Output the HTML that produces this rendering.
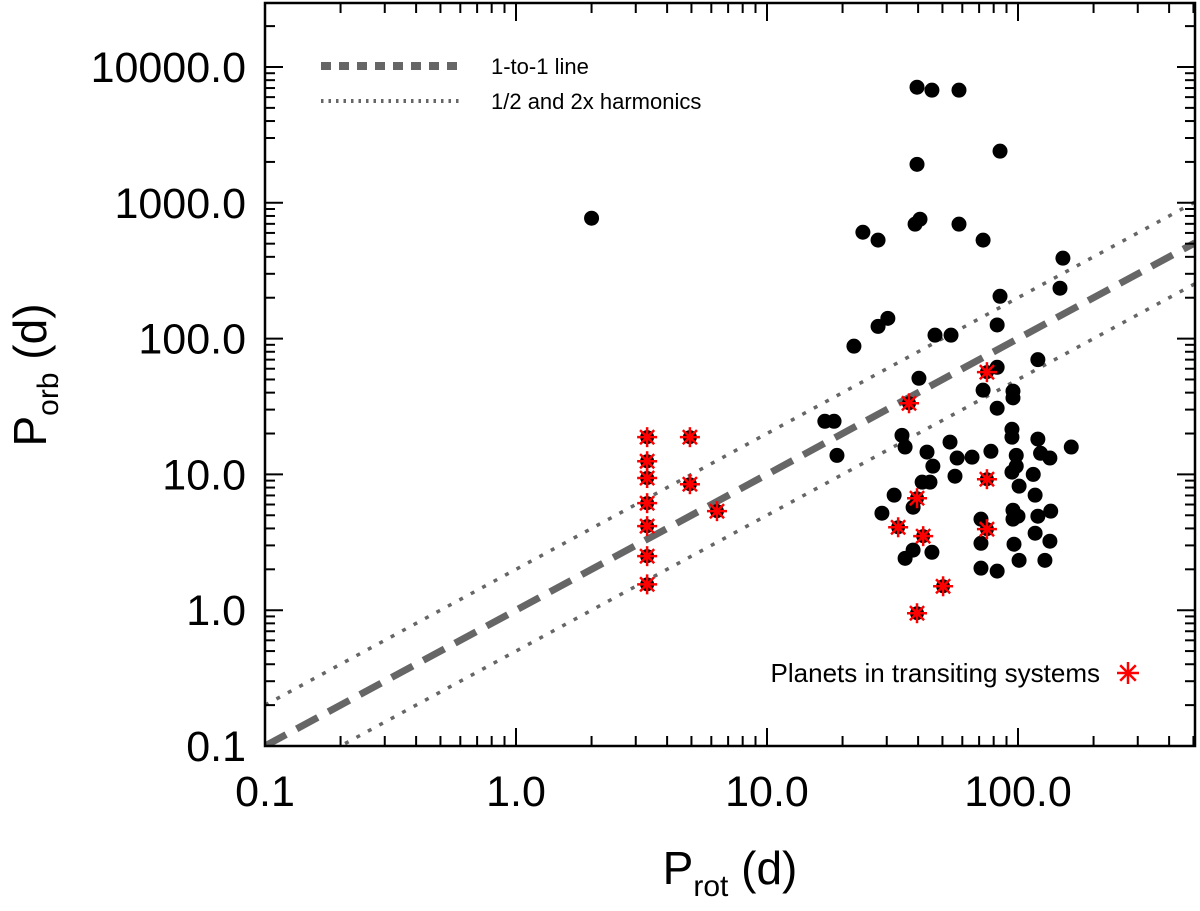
<!DOCTYPE html>
<html><head><meta charset="utf-8"><style>body{margin:0;background:#fff}svg{display:block;font-family:"Liberation Sans",sans-serif}</style></head>
<body>
<svg id="chart" width="1200" height="911" xmlns="http://www.w3.org/2000/svg"></svg>
<script>
const xTickLabels=["0.1","1.0","10.0","100.0"];
const yTickLabels=["0.1","1.0","10.0","100.0","1000.0","10000.0"];
const protBlack=[2.0,24.1,27.7,30.3,27.7,22.2,39.6,45.4,58.2,84.8,39.6,40.7,38.9,58.2,72.6,151,147,84.8,82.6,46.7,54.1,120,82.6,40.3,72.6,95.5,95.5,82.6,17.0,18.5,19.0,34.5,35.5,43.4,53.6,57.2,65.6,78,45.8,56.1,41.5,44.6,32.1,28.7,38.2,38.2,35.5,45.4,71.2,71.2,71.2,82.6,94.6,94.6,120,123,134,163,98.4,98.4,94.6,115,101,117,95.5,100,95.5,120,135,117,134,96.4,101,128];
const porbBlack=[770,607,531,141,123,88,7100,6750,6750,2400,1920,757,696,696,531,391,235,205,126,106,106,70,61.5,51,41.7,41,36.6,30.7,24.6,24.6,13.8,19.4,15.9,14.6,17.3,13.2,13.4,14.8,11.5,9.7,8.77,8.77,7.03,5.18,5.73,2.77,2.41,2.67,4.68,3.11,2.04,1.94,21.5,18.8,18.2,14.3,13.2,15.9,13.8,11.5,10.4,10.0,8.19,7.03,5.45,4.92,4.68,4.92,5.36,3.69,3.22,3.06,2.33,2.33];
const protStar=[3.33,3.33,3.33,3.33,3.33,3.33,3.33,4.93,4.93,6.32,36.8,75.2,39.6,33.3,41.9,50.3,75.2,75.2,39.6];
const porbStar=[18.8,12.5,9.4,6.14,4.16,2.5,1.55,18.8,8.47,5.36,33.4,56.6,6.68,4.08,3.51,1.5,9.22,3.95,0.95];
const L=265,R=1195,T=3,B=746;
const xmin=-1,xdec=251, ymin=-1,ydec=135.8;
const X=v=>L+(Math.log10(v)-xmin)*xdec;
const Y=v=>B-(Math.log10(v)-ymin)*ydec;
const xmax=Math.pow(10,xmin+(R-L)/xdec);
const svg=document.getElementById('chart');const NS="http://www.w3.org/2000/svg";
function mk(t,a,p){const e=document.createElementNS(NS,t);for(const k in a)e.setAttribute(k,a[k]);(p||svg).appendChild(e);return e;}
const clip=mk('clipPath',{id:'pc'});mk('rect',{x:L,y:T,width:R-L,height:B-T},clip);
const lines=[[1,"#666",7,'one-to-one-line'],[2,"#666",3.5,'harmonic-2x-line'],[0.5,"#666",3.5,'harmonic-half-line']];
lines.forEach(l=>{
 const e=mk('line',{x1:X(0.1),y1:Y(0.1*l[0]),x2:X(xmax),y2:Y(xmax*l[0]),stroke:l[1],'stroke-width':l[2],'stroke-dasharray':l[0]==1?"24,12":"4,9",'clip-path':'url(#pc)'});
 
 
});
protBlack.forEach((v,i)=>{
 const c=mk('circle',{cx:X(v),cy:Y(porbBlack[i]),r:7.5,fill:'#000'});
 
 
});
function star(x,y,r,g){
 mk('circle',{cx:x,cy:y,r:7,fill:'#000'},g);
 for(let k=0;k<4;k++){const a=k*Math.PI/4;mk('line',{x1:x-r*Math.cos(a),y1:y-r*Math.sin(a),x2:x+r*Math.cos(a),y2:y+r*Math.sin(a),stroke:'#f00','stroke-width':2.5},g);}
}
protStar.forEach((v,i)=>{
 const g=mk('g',{});
 
 
 star(X(v),Y(porbStar[i]),10,g);
});
const fr=mk('rect',{x:L,y:T,width:R-L,height:B-T,fill:'none',stroke:'#000','stroke-width':2.5});


for(let d=-1;d<3;d++)for(let m=1;m<10;m++){const v=m*Math.pow(10,d);if(v>xmax)break;const x=X(v),len=m==1?18:10;
 mk('line',{x1:x,y1:B,x2:x,y2:B-len,stroke:'#000','stroke-width':2});mk('line',{x1:x,y1:T,x2:x,y2:T+len,stroke:'#000','stroke-width':2});}
for(let d=-1;d<5;d++)for(let m=1;m<10;m++){const v=m*Math.pow(10,d);const y=Y(v);if(y<T)break;const len=m==1?18:10;
 mk('line',{x1:L,y1:y,x2:L+len,y2:y,stroke:'#000','stroke-width':2});mk('line',{x1:R,y1:y,x2:R-len,y2:y,stroke:'#000','stroke-width':2});}
xTickLabels.forEach(s=>{const t=mk('text',{x:X(+s),y:806,'font-size':43,'text-anchor':'middle'});t.textContent=s;
 
 });
yTickLabels.forEach(s=>{const t=mk('text',{x:246,y:Y(+s)+15,'font-size':43,'text-anchor':'end'});t.textContent=s;
 
 });
const xt=mk('text',{x:730,y:884,'font-size':46,'text-anchor':'middle'});xt.innerHTML='P<tspan font-size="30" dy="12">rot</tspan><tspan dy="-12"> (d)</tspan>';


const yt=mk('text',{x:0,y:0,'font-size':46,'text-anchor':'middle',transform:'translate(46,375) rotate(-90)'});yt.innerHTML='P<tspan font-size="30" dy="12">orb</tspan><tspan dy="-12"> (d)</tspan>';


const lg=mk('g',{});


mk('line',{x1:321,y1:66,x2:460,y2:66,stroke:'#666','stroke-width':8,'stroke-dasharray':'10,8'},lg);
mk('line',{x1:321,y1:101,x2:462,y2:101,stroke:'#666','stroke-width':4,'stroke-dasharray':'2.5,5'},lg);
const l1=mk('text',{x:491,y:74,'font-size':22},lg);l1.textContent='1-to-1 line';
const l2=mk('text',{x:491,y:109,'font-size':22},lg);l2.textContent='1/2 and 2x harmonics';
const lg2=mk('g',{});


const l3=mk('text',{x:1100,y:682,'font-size':26,'text-anchor':'end'},lg2);l3.textContent='Planets in transiting systems';
for(let k=0;k<4;k++){const a=k*Math.PI/4,r=11;mk('line',{x1:1128-r*Math.cos(a),y1:673-r*Math.sin(a),x2:1128+r*Math.cos(a),y2:673+r*Math.sin(a),stroke:'#f00','stroke-width':2.5},lg2);}
</script>
</body></html>
